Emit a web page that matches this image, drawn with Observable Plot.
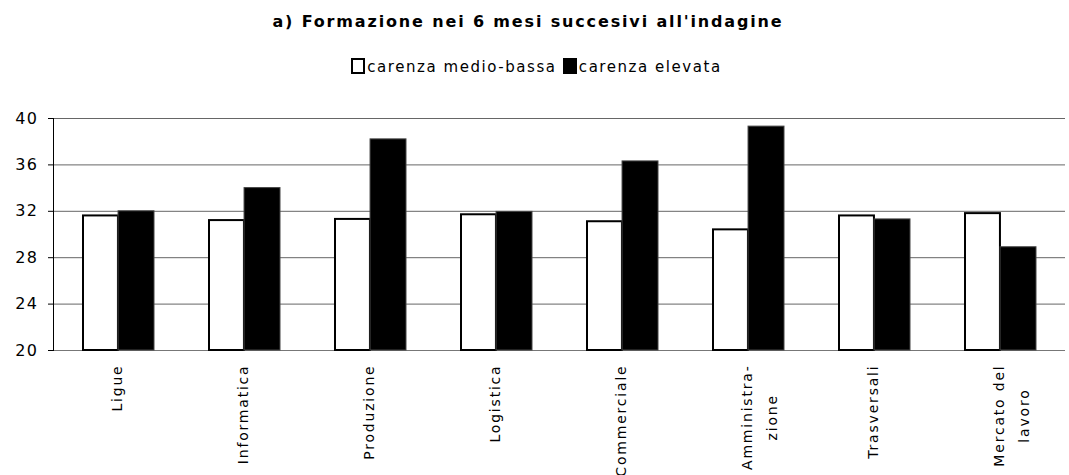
<!DOCTYPE html>
<html>
<head>
<meta charset="utf-8">
<script src="https://cdn.jsdelivr.net/npm/d3@7"></script>
<script src="https://cdn.jsdelivr.net/npm/@observablehq/plot@0.6"></script>
<style>
  html, body { margin: 0; padding: 0; background: #fff; }
  body { width: 1069px; height: 475px; position: relative; overflow: hidden; font-family: "DejaVu Sans", Verdana, sans-serif; color: #000; }
  #title { position: absolute; top: 12px; left: 0; width: 1056px; text-align: center; font-weight: bold; font-size: 16px; letter-spacing: 1.85px; }
  #legend { position: absolute; top: 58px; left: 0; width: 1073px; text-align: center; font-size: 15px; letter-spacing: 1.55px; }
  #legend .sw { display: inline-block; width: 10px; height: 12px; border: 2px solid #000; vertical-align: -2px; margin-right: 2px; }
  #chart { position: absolute; top: 100px; left: 0; }
</style>
</head>
<body>
<div id="title"></div>
<div id="legend"></div>
<div id="chart"></div>
<script>
const titleText = "a) Formazione nei 6 mesi succesivi all'indagine";
const categories = ["Ligue", "Informatica", "Produzione", "Logistica", "Commerciale", "Amministrazione", "Trasversali", "Mercato del lavoro"];
const tickLabels = ["Ligue", "Informatica", "Produzione", "Logistica", "Commerciale", "Amministra-\nzione", "Trasversali", "Mercato del\nlavoro"];
const seriesNames = ["carenza medio-bassa", "carenza elevata"];
const lowValues = [31.6, 31.2, 31.3, 31.7, 31.1, 30.4, 31.6, 31.8];
const highValues = [32.0, 34.0, 38.2, 31.95, 36.3, 39.3, 31.3, 28.9];
const yTicks = [20, 24, 28, 32, 36, 40];

document.getElementById("title").textContent = titleText;
const legend = document.getElementById("legend");
legend.innerHTML =
  `<span class="sw" style="background:#fff"></span>${seriesNames[0]} ` +
  `<span class="sw" style="background:#000"></span>${seriesNames[1]}`;

const width = 1069, height = 375;
const marginLeft = 53, marginRight = 4, marginTop = 18, marginBottom = 125;
const padInner = 0.43, padOuter = padInner / 2;
const step = (width - marginLeft - marginRight) / categories.length;
const bw = step * (1 - padInner);
const half = bw / 2;

const low = categories.map((c, i) => ({cat: c, value: lowValues[i]}));
const high = categories.map((c, i) => ({cat: c, value: highValues[i]}));
const labelOf = new Map(categories.map((c, i) => [c, tickLabels[i]]));

const plot = Plot.plot({
  width, height, marginLeft, marginRight, marginTop, marginBottom,
  style: {fontFamily: "DejaVu Sans, Verdana, sans-serif", color: "#000", background: "#fff"},
  x: {domain: categories, paddingInner: padInner, paddingOuter: padOuter, axis: null},
  y: {domain: [20, 40], axis: null},
  marks: [
    Plot.ruleY(yTicks.slice(1), {stroke: "#666", strokeWidth: 1}),
    Plot.ruleY([20], {stroke: "#777", strokeWidth: 1}),
    Plot.barY(low, {x: "cat", y1: () => 20, y2: "value", fill: "#fff", stroke: "#000", strokeWidth: 2, insetRight: half, insetLeft: 1}),
    Plot.barY(high, {x: "cat", y1: () => 20, y2: "value", fill: "#000", stroke: "#444", strokeWidth: 1, insetLeft: half}),
    Plot.frame({anchor: "left", stroke: "#000"}),
    Plot.axisY({ticks: yTicks, tickSize: 5, tickPadding: 10, fontSize: 16, label: null, stroke: "#000"}),
    Plot.axisX({tickSize: 0, tickPadding: 14, tickRotate: -90, fontSize: 14, lineHeight: 1.8, lineAnchor: "top", label: null,
      tickFormat: d => labelOf.get(d)})
  ]
});
document.getElementById("chart").appendChild(plot);

const xg = plot.querySelector('g[aria-label="x-axis tick label"]');
if (xg) {
  xg.style.letterSpacing = "1.8px";
  const tr = xg.getAttribute("transform") || "";
  xg.setAttribute("transform", `translate(-14.5,0) ${tr}`);
}
const yg = plot.querySelector('g[aria-label="y-axis tick label"]');
if (yg) yg.style.letterSpacing = "1.5px";

// center the lines of multi-line category labels within their block
plot.querySelectorAll("text").forEach(t => {
  const spans = t.querySelectorAll("tspan");
  if (spans.length > 1) {
    let maxLen = 0;
    spans.forEach(s => { maxLen = Math.max(maxLen, s.getComputedTextLength()); });
    spans.forEach(s => { s.setAttribute("x", -maxLen / 2); s.setAttribute("text-anchor", "middle"); });
  }
});
</script>
</body>
</html>
